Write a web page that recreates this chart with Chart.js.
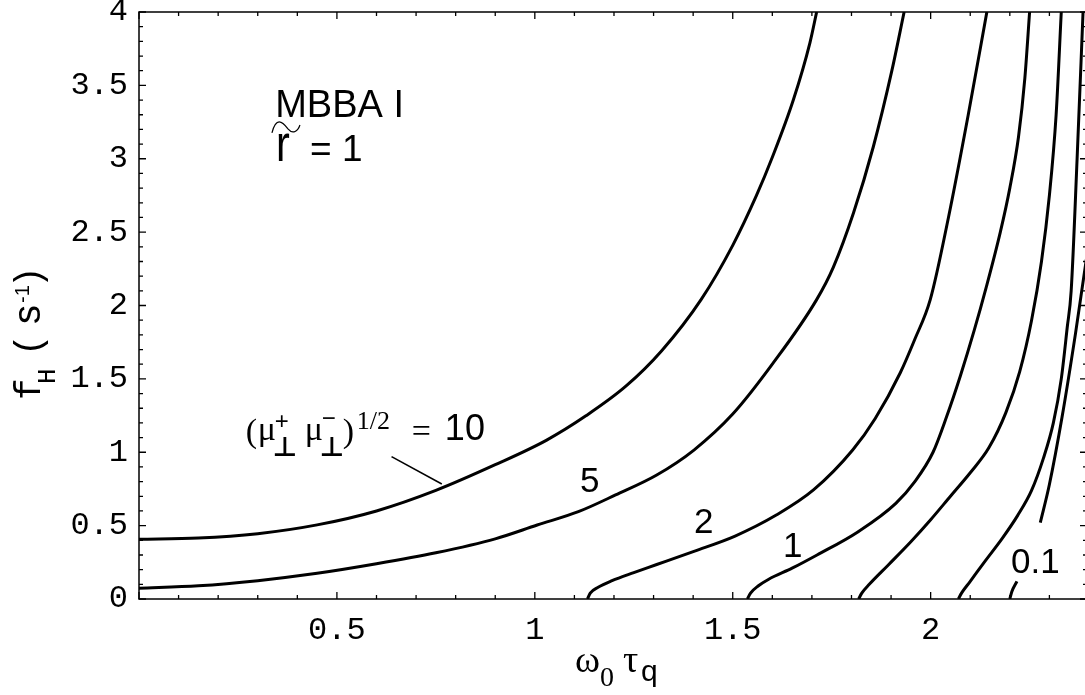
<!DOCTYPE html>
<html>
<head>
<meta charset="utf-8">
<script src="https://cdn.jsdelivr.net/npm/chart.js@4.4.1/dist/chart.umd.min.js"></script>
<style>
  html, body { margin: 0; padding: 0; background: #fff; overflow: hidden; }
  #wrap { width: 1090px; height: 695px; }
</style>
</head>
<body>
<div id="wrap"><canvas id="fhChart" width="1090" height="695"></canvas></div>
<script>
// Curvas f_H(omega0 tau_q) para distintos valores de (mu+ mu-)^1/2
const curve10 = [[0, 0.407], [0.15, 0.415], [0.3, 0.445], [0.45, 0.505], [0.6, 0.6], [0.75, 0.74],
  [0.9, 0.915], [1.03, 1.083], [1.13, 1.25], [1.23, 1.45], [1.32, 1.69], [1.42, 2.04],
  [1.5, 2.41], [1.56, 2.75], [1.6, 3.01], [1.653, 3.4], [1.695, 3.79], [1.712, 4.0]];
const curve5 = [[0, 0.073], [0.15, 0.09], [0.3, 0.125], [0.45, 0.175], [0.6, 0.24], [0.75, 0.315],
  [0.9, 0.41], [1.006, 0.504], [1.11, 0.595], [1.204, 0.709], [1.308, 0.845], [1.402, 1.015],
  [1.5, 1.26], [1.6, 1.6], [1.712, 2.04], [1.754, 2.26], [1.805, 2.63], [1.855, 3.08],
  [1.902, 3.6], [1.933, 4.0]];
const curve2 = [[1.133, 0], [1.14, 0.04], [1.16, 0.08], [1.195, 0.125], [1.25, 0.18], [1.308, 0.235],
  [1.402, 0.325], [1.506, 0.429], [1.61, 0.572], [1.704, 0.743], [1.803, 1.015], [1.86, 1.23],
  [1.923, 1.54], [1.96, 1.77], [1.999, 2.04], [2.045, 2.6], [2.095, 3.3], [2.142, 4.0]];
const curve1 = [[1.537, 0], [1.545, 0.04], [1.565, 0.09], [1.591, 0.135], [1.65, 0.21], [1.713, 0.3],
  [1.817, 0.459], [1.912, 0.652], [1.96, 0.8], [2.006, 1.0], [2.04, 1.24], [2.075, 1.52],
  [2.11, 1.83], [2.14, 2.12], [2.176, 2.5], [2.2, 2.8], [2.222, 3.15], [2.238, 3.55], [2.25, 4.0]];
const curve05 = [[1.818, 0], [1.826, 0.04], [1.845, 0.1], [1.893, 0.232], [1.95, 0.39], [2.0, 0.54],
  [2.05, 0.7], [2.1, 0.86], [2.147, 1.03], [2.19, 1.27], [2.225, 1.55], [2.255, 1.9], [2.28, 2.3],
  [2.3, 2.75], [2.317, 3.3], [2.33, 4.0]];
const curve02 = [[2.07, 0], [2.078, 0.04], [2.1, 0.12], [2.138, 0.26], [2.18, 0.41], [2.22, 0.57],
  [2.255, 0.74], [2.285, 0.96], [2.31, 1.2], [2.33, 1.5], [2.345, 1.85], [2.355, 2.1],
  [2.37, 3.0], [2.385, 4.0]];
const curve01low = [[2.2, 0], [2.205, 0.05], [2.218, 0.12]];
const curve01up = [[2.277, 0.52], [2.3, 0.78], [2.332, 1.24], [2.366, 1.81], [2.392, 2.29], [2.41, 2.6]];

const xTickLabels = ['0.5', '1', '1.5', '2'];
const yTickLabels = ['0', '0.5', '1', '1.5', '2', '2.5', '3', '3.5', '4'];
const curveLabels = ['5', '2', '1', '0.1'];

const allCurves = [curve10, curve5, curve2, curve1, curve05, curve02, curve01low, curve01up];

const monoFont = { family: '"Liberation Mono", "DejaVu Sans Mono", monospace', size: 32 };

function fmt(v) {
  const r = Math.round(v * 10) / 10;
  return String(r);
}

// fija el tamaño del eje y quita el relleno extra de las etiquetas
function fixScale(size) {
  return s => {
    if (s.isHorizontal()) s.height = size; else s.width = size;
    s.paddingTop = 0; s.paddingBottom = 0; s.paddingLeft = 0; s.paddingRight = 0;
  };
}

// Dibujo de marco, marcas internas, textos y titulos
const decoPlugin = {
  id: 'deco',
  afterDatasetsDraw(chart) {
    const c = chart.ctx;
    const a = chart.chartArea;
    const sx = chart.scales.x, sy = chart.scales.y;
    const at = (x, y) => [sx.getPixelForValue(x), sy.getPixelForValue(y)];

    c.save();
    c.strokeStyle = '#000';
    c.fillStyle = '#000';
    c.lineWidth = 1.5;
    c.strokeRect(a.left, a.top, a.right - a.left, a.bottom - a.top);

    // marcas menores y mayores hacia dentro
    c.lineWidth = 1.3;
    c.beginPath();
    for (let i = 0; i <= 23; i++) {
      const px = sx.getPixelForValue(i / 10);
      const len = i % 5 === 0 ? 7 : 4;
      c.moveTo(px, a.bottom); c.lineTo(px, a.bottom - len);
      c.moveTo(px, a.top); c.lineTo(px, a.top + len);
    }
    for (let i = 0; i <= 40; i++) {
      const py = sy.getPixelForValue(i / 10);
      const len = i % 5 === 0 ? 7 : 4;
      c.moveTo(a.left, py); c.lineTo(a.left + len, py);
      c.moveTo(a.right, py); c.lineTo(a.right - len, py);
    }
    c.stroke();

    const txt = (s, x, y, font) => { c.font = font; c.fillText(s, x, y); };
    c.textBaseline = 'alphabetic';
    c.textAlign = 'left';

    const sans = '"Liberation Sans", Arial, sans-serif';
    const serif = '"Liberation Serif", "Times New Roman", serif';

    // MBBA I / r~ = 1
    let p = at(0.344, 3.284);
    txt('MBBA I', p[0], p[1], '38px ' + sans);
    p = at(0.346, 2.985);
    c.save();
    c.translate(p[0], p[1]);
    c.scale(1.15, 1.45);
    txt('r', 0, 0, '36px ' + sans);
    c.restore();
    c.lineWidth = 1.2;
    c.beginPath();
    c.moveTo(p[0] - 4, p[1] - 28);
    c.bezierCurveTo(p[0], p[1] - 44, p[0] + 6, p[1] - 40, p[0] + 12, p[1] - 32);
    c.bezierCurveTo(p[0] + 17, p[1] - 26, p[0] + 22, p[1] - 30, p[0] + 24, p[1] - 36);
    c.stroke();
    p = at(0.432, 2.985);
    txt('= 1', p[0], p[1], '37px ' + sans);

    // (mu+ mu-)^1/2 = 10
    p = at(0.27, 1.07);
    const bx = p[0], by = p[1];
    txt('(', bx, by, '34px ' + serif);
    txt('\u03bc', bx + 12, by - 2, '34px ' + serif);
    txt('+', bx + 29, by - 13, '24px ' + sans);
    txt('\u22a5', bx + 27, by + 14, 'bold 27px "DejaVu Sans"');
    txt('\u03bc', bx + 59, by - 2, '34px ' + serif);
    txt('\u2212', bx + 76, by - 16, '24px ' + sans);
    txt('\u22a5', bx + 74, by + 14, 'bold 27px "DejaVu Sans"');
    txt(')', bx + 97, by, '34px ' + serif);
    txt('1/2', bx + 111, by - 13, '26px ' + serif);
    txt('=', bx + 166, by, '34px ' + serif);
    txt('10', bx + 199, by - 2, '36px ' + sans);

    // linea guia
    const l1 = at(0.638, 0.97), l2 = at(0.765, 0.784);
    c.lineWidth = 1.6;
    c.beginPath(); c.moveTo(l1[0], l1[1]); c.lineTo(l2[0], l2[1]); c.stroke();

    // etiquetas de curvas
    const labelPos = [[1.114, 0.729], [1.402, 0.45], [1.627, 0.286], [2.203, 0.177]];
    curveLabels.forEach((s, i) => {
      const q = at(labelPos[i][0], labelPos[i][1]);
      txt(s, q[0], q[1], '35px ' + sans);
    });

    // titulo eje x: omega_0 tau_q
    txt('\u03c9', 575, 672, '38px ' + serif);
    txt('0', 600, 686, '28px ' + serif);
    txt('\u03c4', 623, 672, '38px ' + serif);
    txt('q', 641, 681, '30px ' + sans);

    // titulo eje y: f_H ( s^-1 )
    c.save();
    c.translate(40, 400);
    c.rotate(-Math.PI / 2);
    const mono = '"Liberation Mono", monospace';
    txt('f', 0, 0, '36px ' + mono);
    txt('H', 16, 15, '26px ' + mono);
    txt('(', 44, 0, '36px ' + mono);
    txt('s', 76, 0, '38px ' + sans);
    txt('-1', 97, -11, '20px ' + sans);
    txt(')', 112, 0, '36px ' + mono);
    c.restore();

    c.restore();
  }
};

const ctx = document.getElementById('fhChart').getContext('2d');

const datasets = allCurves.map(curve => ({
  data: curve.map(([x, y]) => ({ x: x, y: y })),
  borderColor: '#000',
  borderWidth: 3,
  pointRadius: 0,
  showLine: true,
  fill: false,
  cubicInterpolationMode: 'monotone'
}));

const fhChart = new Chart(ctx, {
  type: 'scatter',
  data: { datasets: datasets },
  options: {
    responsive: false,
    devicePixelRatio: 1,
    animation: false,
    layout: { padding: { left: 0, top: 12, right: 3, bottom: 0 } },
    scales: {
      x: {
        type: 'linear',
        min: 0,
        max: 2.395,
        afterFit: fixScale(96),
        grid: { display: false, drawTicks: false },
        border: { display: false },
        ticks: {
          stepSize: 0.5,
          autoSkip: false,
          maxRotation: 0,
          padding: 12,
          color: '#000',
          font: monoFont,
          callback: v => (xTickLabels.includes(fmt(v)) ? fmt(v) : '')
        }
      },
      y: {
        type: 'linear',
        min: 0,
        max: 4,
        afterFit: fixScale(139),
        grid: { display: false, drawTicks: false },
        border: { display: false },
        ticks: {
          stepSize: 0.5,
          autoSkip: false,
          padding: 11,
          color: '#000',
          font: monoFont,
          callback: v => (yTickLabels.includes(fmt(v)) ? fmt(v) : '')
        }
      }
    },
    plugins: {
      legend: { display: false },
      tooltip: { enabled: false }
    }
  },
  plugins: [decoPlugin]
});
</script>
</body>
</html>
